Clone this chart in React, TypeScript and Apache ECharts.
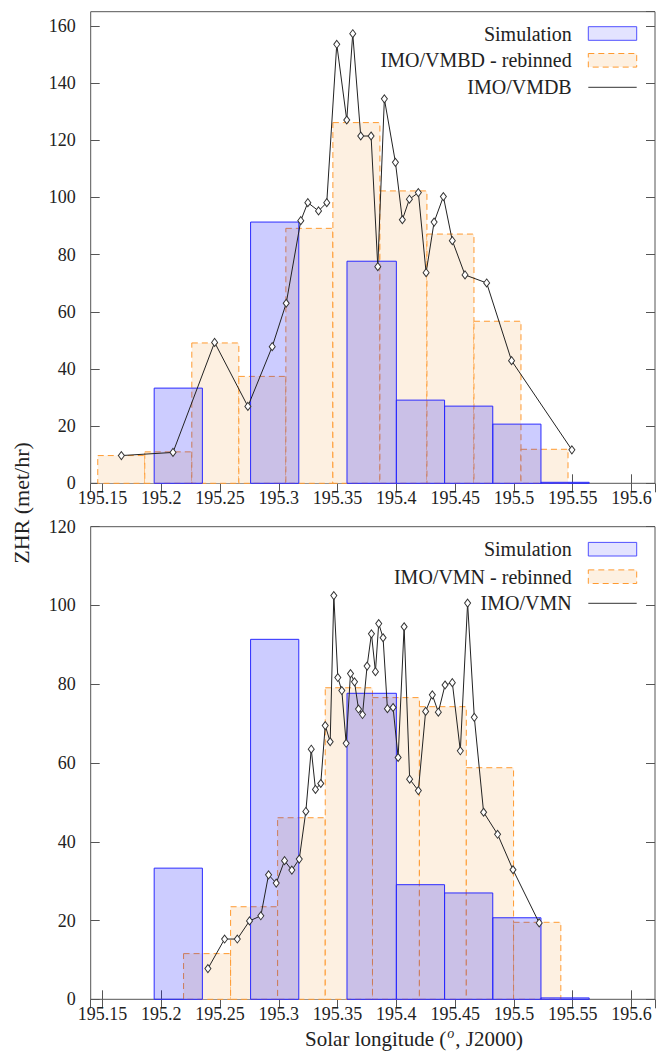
import React, { useEffect, useRef } from "react";
import * as echarts from "echarts";

// ---------- data ----------
// Simulation histogram (shared by both panels); bins with zero counts omitted
const simBinStart = [195.194, 195.276, 195.358, 195.4, 195.441, 195.482, 195.523];
const simBinEnd = [195.235, 195.317, 195.4, 195.441, 195.482, 195.523, 195.564];
const simZHR = [33.3, 91.4, 77.7, 29.1, 27.0, 20.7, 0.35];

// Top panel: IMO/VMDB rebinned
const vmdbRebinEdges = [195.146, 195.186, 195.226, 195.266, 195.306, 195.346, 195.386, 195.426, 195.466, 195.506, 195.546];
const vmdbRebinZHR = [9.7, 11.0, 49.1, 37.4, 89.2, 126.2, 102.3, 87.2, 56.7, 11.9];

// Top panel: IMO/VMDB raw profile
const vmdbLon = [
  195.1661, 195.21, 195.2454, 195.2737, 195.2944, 195.3063, 195.3187, 195.3247, 195.3338, 195.3408,
  195.3493, 195.3578, 195.3629, 195.3697, 195.3785, 195.3842, 195.3898, 195.3992, 195.4051, 195.4111,
  195.4187, 195.4253, 195.4321, 195.44, 195.4476, 195.4584, 195.4768, 195.498, 195.5493,
];
const vmdbZHR = [
  9.7, 10.8, 49.3, 26.9, 47.8, 63.0, 91.9, 98.2, 95.3, 98.2,
  153.6, 127.1, 157.3, 121.5, 121.5, 75.8, 134.5, 112.3, 92.2, 99.4,
  101.7, 73.7, 91.4, 100.3, 84.9, 72.9, 70.1, 42.9, 11.7,
];

// Bottom panel: IMO/VMN rebinned
const vmnRebinEdges = [195.219, 195.259, 195.299, 195.3395, 195.3797, 195.4196, 195.4595, 195.4997, 195.5399];
const vmnRebinZHR = [11.6, 23.5, 46.1, 79.1, 76.6, 74.3, 58.8, 19.55];

// Bottom panel: IMO/VMN raw profile
const vmnLon = [
  195.2397, 195.2539, 195.2647, 195.2751, 195.2847, 195.2913, 195.2978, 195.3049, 195.3111, 195.3174,
  195.323, 195.3276, 195.3312, 195.3357, 195.3395, 195.3437, 195.3468, 195.3502, 195.3536, 195.3573,
  195.361, 195.3644, 195.3678, 195.3712, 195.3751, 195.3788, 195.3822, 195.385, 195.3887, 195.3924,
  195.3972, 195.4015, 195.4066, 195.4113, 195.4187, 195.4249, 195.4306, 195.4357, 195.4414, 195.4476,
  195.4544, 195.4606, 195.4663, 195.4742, 195.4861, 195.4992, 195.5215,
];
const vmnZHR = [
  7.8, 15.3, 15.3, 19.9, 21.2, 31.6, 29.5, 35.2, 32.8, 35.6,
  47.7, 63.5, 53.3, 54.8, 69.5, 65.4, 102.5, 81.7, 78.4, 65.0,
  82.7, 80.6, 73.7, 72.3, 84.6, 92.8, 83.2, 95.4, 91.8, 73.8,
  74.1, 61.4, 94.6, 55.9, 53.0, 73.1, 77.3, 72.9, 79.8, 80.4,
  63.1, 100.6, 71.6, 47.5, 41.9, 32.9, 19.4,
];

const xRange = [195.14, 195.62];
const yMaxTop = 165;
const yMaxBottom = 120;
const topLegend = ["Simulation", "IMO/VMBD - rebinned", "IMO/VMDB"];
const bottomLegend = ["Simulation", "IMO/VMN - rebinned", "IMO/VMN"];
const yName = "ZHR (met/hr)";

// ---------- styling ----------
const FONT = "serif";
const AXIS_COLOR = "#555";
const TEXT_COLOR = "#222";
const ORANGE_FILL = "#fdf0e1";
const ORANGE_STROKE = "#ff9a30";
const BLUE_FILL = "rgba(0,0,255,0.2)";
const BLUE_STROKE = "#2a2aff";
const LINE_COLOR = "#222";

const GRIDS = [
  { left: 90.7, top: 11.7, width: 564.3, height: 471.6 },
  { left: 90.7, top: 526.7, width: 564.3, height: 472.6 },
];

function binRender(fill: string, stroke: string, dash: number[] | null) {
  return (_params: any, api: any) => {
    const x0 = api.value(0);
    const x1 = api.value(1);
    const y = api.value(2);
    const a = api.coord([x0, 0]);
    const b = api.coord([x1, y]);
    return {
      type: "rect",
      shape: { x: a[0], y: b[1], width: b[0] - a[0], height: a[1] - b[1] },
      style: { fill, stroke, lineWidth: 1, lineDash: dash || undefined },
    };
  };
}

function fmtX(v: number) {
  return String(parseFloat(v.toFixed(2)));
}

function makeXAxis(gridIndex: number, position: "top" | "bottom") {
  return {
    type: "value",
    gridIndex,
    position,
    min: xRange[0],
    max: xRange[1],
    minInterval: 0.05,
    maxInterval: 0.05,
    splitNumber: 10,
    axisLine: { show: false },
    axisTick: { show: true, inside: true, length: 9, lineStyle: { color: AXIS_COLOR } },
    axisLabel: {
      show: position === "bottom",
      showMinLabel: false,
      showMaxLabel: false,
      margin: 6,
      fontSize: 18,
      fontFamily: FONT,
      color: TEXT_COLOR,
      formatter: fmtX,
    },
    splitLine: { show: false },
  };
}

function makeYAxis(gridIndex: number, position: "left" | "right", max: number) {
  return {
    type: "value",
    gridIndex,
    position,
    min: 0,
    max,
    interval: 20,
    axisLine: { show: false },
    axisTick: { show: true, inside: true, length: 9, lineStyle: { color: AXIS_COLOR } },
    axisLabel: {
      show: position === "left",
      showMaxLabel: max % 20 === 0,
      margin: 15,
      fontSize: 18,
      fontFamily: FONT,
      color: TEXT_COLOR,
    },
    splitLine: { show: false },
  };
}

function legendGraphics(names: string[], rowY: number[]) {
  const textRight = 571.7;
  const boxX = 588.3;
  const boxW = 48.4;
  const boxH = 13.6;
  const els: any[] = [];
  names.forEach((n, i) => {
    els.push({
      type: "text",
      x: textRight,
      y: rowY[i],
      style: {
        text: n,
        fontSize: 20,
        fontFamily: FONT,
        fill: TEXT_COLOR,
        align: "right",
        verticalAlign: "middle",
      },
    });
  });
  els.push({
    type: "rect",
    shape: { x: boxX, y: rowY[0] - boxH / 2, width: boxW, height: boxH },
    style: { fill: "rgba(0,0,255,0.11)", stroke: "#5050ff", lineWidth: 1 },
  });
  els.push({
    type: "rect",
    shape: { x: boxX, y: rowY[1] - boxH / 2, width: boxW, height: boxH },
    style: { fill: ORANGE_FILL, stroke: ORANGE_STROKE, lineWidth: 1, lineDash: [6, 4] },
  });
  els.push({
    type: "line",
    shape: { x1: boxX, y1: rowY[2], x2: boxX + boxW, y2: rowY[2] },
    style: { stroke: "#333", lineWidth: 1 },
  });
  return els;
}

function binData(starts: number[], ends: number[], vals: number[]) {
  return vals.map((v, i) => [starts[i], ends[i], v]);
}

function buildOption() {
  const series: any[] = [];
  const panels = [
    { edges: vmdbRebinEdges, rebin: vmdbRebinZHR, lon: vmdbLon, zhr: vmdbZHR, names: topLegend },
    { edges: vmnRebinEdges, rebin: vmnRebinZHR, lon: vmnLon, zhr: vmnZHR, names: bottomLegend },
  ];
  panels.forEach((p, gi) => {
    const xi = gi * 2;
    const yi = gi * 2;
    series.push({
      type: "custom",
      name: p.names[1],
      xAxisIndex: xi,
      yAxisIndex: yi,
      renderItem: binRender(ORANGE_FILL, ORANGE_STROKE, [6, 4]),
      encode: { x: [0, 1], y: 2 },
      data: binData(p.edges.slice(0, -1), p.edges.slice(1), p.rebin),
      z: 1,
      silent: true,
    });
    series.push({
      type: "custom",
      name: p.names[0],
      xAxisIndex: xi,
      yAxisIndex: yi,
      renderItem: binRender(BLUE_FILL, BLUE_STROKE, null),
      encode: { x: [0, 1], y: 2 },
      data: binData(simBinStart, simBinEnd, simZHR),
      z: 2,
      silent: true,
    });
    series.push({
      type: "line",
      name: p.names[2],
      xAxisIndex: xi,
      yAxisIndex: yi,
      data: p.lon.map((x, i) => [x, p.zhr[i]]),
      symbol: "diamond",
      symbolSize: [6, 8],
      showAllSymbol: true,
      lineStyle: { color: LINE_COLOR, width: 1 },
      itemStyle: { color: "#fff", borderColor: "#333", borderWidth: 1 },
      z: 3,
      silent: true,
    });
  });

  return {
    animation: false,
    backgroundColor: "#fff",
    grid: GRIDS.map((g) => ({
      ...g,
      show: true,
      borderColor: AXIS_COLOR,
      borderWidth: 1,
      backgroundColor: "transparent",
      containLabel: false,
    })),
    xAxis: [
      makeXAxis(0, "bottom"),
      makeXAxis(0, "top"),
      makeXAxis(1, "bottom"),
      makeXAxis(1, "top"),
    ],
    yAxis: [
      makeYAxis(0, "left", yMaxTop),
      makeYAxis(0, "right", yMaxTop),
      makeYAxis(1, "left", yMaxBottom),
      makeYAxis(1, "right", yMaxBottom),
    ],
    series,
    graphic: [
      ...legendGraphics(topLegend, [33.5, 60.3, 87.3]),
      ...legendGraphics(bottomLegend, [549.2, 576.7, 603.3]),
      {
        type: "text",
        x: 21.7,
        y: 503,
        rotation: Math.PI / 2,
        style: {
          text: yName,
          fontSize: 22,
          fontFamily: FONT,
          fill: TEXT_COLOR,
          align: "center",
          verticalAlign: "middle",
        },
      },
      {
        type: "text",
        x: 414,
        y: 1039,
        style: {
          text: "{a|Solar longitude (}{s|o}{a|, J2000)}",
          fill: TEXT_COLOR,
          fontSize: 21,
          fontFamily: FONT,
          align: "center",
          verticalAlign: "middle",
          rich: {
            a: { fontSize: 21, fontFamily: FONT, fill: TEXT_COLOR },
            s: {
              fontSize: 14,
              fontStyle: "italic",
              fontFamily: FONT,
              fill: TEXT_COLOR,
              padding: [0, 1, 12, 1],
            },
          },
        },
      },
    ],
  };
}

export default function App() {
  const ref = useRef<HTMLDivElement>(null);
  useEffect(() => {
    if (!ref.current) return;
    const chart = echarts.init(ref.current, undefined, { renderer: "svg" });
    chart.setOption(buildOption() as any);
    return () => chart.dispose();
  }, []);
  return (
    <div
      ref={ref}
      style={{ position: "absolute", left: 0, top: 0, width: 657, height: 1051, background: "#fff" }}
    />
  );
}
